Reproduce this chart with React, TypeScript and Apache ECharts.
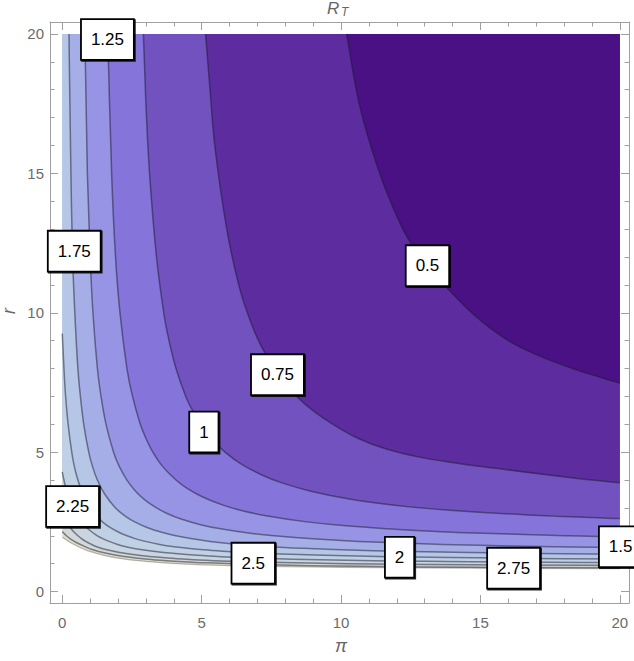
import React, { useEffect, useRef } from "react";
import * as echarts from "echarts";

// contour levels and the colour of the region below each level
const levels = [0.5, 0.75, 1, 1.25, 1.5, 1.75, 2, 2.25, 2.5, 2.75];
const bandColors = ["#4A1185", "#5D2DA0", "#7152BE", "#8574DA", "#9794E6", "#A6AEE8", "#B6C6E6", "#C0D1E5", "#C9D5E0", "#D3D8D8"];
const topBandColor = "#E2DECC";

// contour lines, as [pi, r]
const contour050 = [[10.2, 20], [10.65, 17.5], [11.3, 15.25], [12.0, 13.46], [12.5, 12.5], [13.2, 11.6], [13.8, 10.9], [14.8, 9.9], [16.0, 9.0], [17.0, 8.5], [18.3, 8.0], [20, 7.47]];
const contour075 = [[5.14, 20], [5.3, 18], [5.47, 16], [5.9, 13], [6.33, 11], [6.64, 10], [7.04, 9], [7.6, 8], [7.96, 7.5], [8.41, 7], [8.98, 6.5], [9.71, 6], [10.6, 5.5], [11.6, 5.12], [12.72, 4.84], [13.91, 4.64], [15.95, 4.37], [18.34, 4.07], [20, 3.9]];
const contour100 = [[2.91, 20], [3.0, 17.5], [3.13, 15], [3.38, 12], [3.64, 10], [3.83, 9], [4.08, 8], [4.43, 7], [4.67, 6.5], [4.96, 6], [5.34, 5.5], [5.84, 5], [6.38, 4.6], [7.12, 4.2], [7.88, 3.9], [8.92, 3.6], [10.3, 3.32], [11.92, 3.1], [13.9, 2.92], [16.7, 2.75], [20, 2.62]];
const contour125 = [[1.63, 20], [1.77, 15], [1.91, 12], [2.07, 10], [2.32, 8], [2.52, 7], [2.8, 6], [3.0, 5.5], [3.25, 5], [3.59, 4.5], [4.08, 4], [4.48, 3.7], [5.02, 3.4], [5.77, 3.1], [6.46, 2.9], [7.41, 2.7], [8.77, 2.5], [10.28, 2.35], [12.53, 2.2], [14.78, 2.1], [18.16, 2.0], [20, 1.96]];
const contour150 = [[0.81, 20], [0.9, 15], [1.0, 12], [1.1, 10], [1.26, 8], [1.39, 7], [1.57, 6], [1.84, 5], [2.04, 4.5], [2.32, 4], [2.63, 3.6], [2.95, 3.3], [3.38, 3.0], [3.76, 2.8], [4.26, 2.6], [4.96, 2.4], [5.68, 2.25], [6.68, 2.1], [7.6, 2.0], [8.84, 1.9], [10.62, 1.8], [12.7, 1.72], [15.38, 1.65], [18.16, 1.6], [20, 1.58]];
const contour175 = [[0.24, 20], [0.31, 15], [0.37, 12], [0.45, 10], [0.56, 8], [0.65, 7], [0.77, 6], [0.95, 5], [1.08, 4.5], [1.26, 4], [1.52, 3.5], [1.91, 3], [2.27, 2.7], [2.6, 2.5], [3.04, 2.3], [3.66, 2.1], [4.08, 2.0], [4.61, 1.9], [5.3, 1.8], [6.25, 1.7], [7.6, 1.6], [8.64, 1.55], [10.0, 1.5], [11.87, 1.45], [14.58, 1.4], [16.96, 1.37], [20, 1.34]];
const contour200 = [[0, 9.26], [0.06, 8], [0.12, 7], [0.21, 6], [0.34, 5], [0.43, 4.5], [0.56, 4], [0.74, 3.5], [1.0, 3.0], [1.23, 2.7], [1.44, 2.5], [1.71, 2.3], [2.08, 2.1], [2.32, 2.0], [2.61, 1.9], [2.98, 1.8], [3.45, 1.7], [4.08, 1.6], [5.08, 1.5], [5.75, 1.45], [6.62, 1.4], [7.84, 1.35], [9.41, 1.3], [11.71, 1.25], [15.7, 1.2], [20, 1.165]];
const contour225 = [[0, 4.29], [0.06, 4], [0.19, 3.5], [0.37, 3.0], [0.54, 2.7], [0.68, 2.5], [0.87, 2.3], [1.11, 2.1], [1.26, 2.0], [1.45, 1.9], [1.68, 1.8], [1.96, 1.7], [2.32, 1.6], [2.86, 1.5], [3.63, 1.4], [4.84, 1.3], [5.7, 1.25], [6.95, 1.2], [8.75, 1.15], [11.63, 1.1], [14.58, 1.07], [17.35, 1.05], [20, 1.04]];
const contour250 = [[0, 2.79], [0.09, 2.6], [0.21, 2.4], [0.36, 2.2], [0.56, 2.0], [0.69, 1.9], [0.84, 1.8], [1.03, 1.7], [1.26, 1.6], [1.6, 1.5], [2.06, 1.4], [2.74, 1.3], [3.78, 1.2], [4.57, 1.15], [5.67, 1.1], [7.39, 1.05], [10.24, 1.0], [13.14, 0.97], [16.24, 0.95], [20, 0.935]];
const contour275 = [[0, 2.15], [0.15, 2.0], [0.3, 1.88], [0.5, 1.76], [0.8, 1.62], [1.1, 1.5], [1.5, 1.39], [2.15, 1.27], [3.17, 1.15], [4.0, 1.09], [5.16, 1.03], [7.1, 0.97], [8.88, 0.93], [10.65, 0.91], [12.94, 0.885], [16.31, 0.865], [20, 0.85]];
// lower edge of the plotted region (white below)
const boundary = [[0, 1.95], [0.3, 1.75], [0.6, 1.6], [0.93, 1.46], [1.5, 1.3], [2.13, 1.18], [3.0, 1.08], [3.93, 1.01], [5.0, 0.96], [6.08, 0.93], [8, 0.895], [10, 0.87], [13, 0.85], [16, 0.835], [20, 0.82]];

const contours = [contour050, contour075, contour100, contour125, contour150, contour175, contour200, contour225, contour250, contour275];

// contour labels
const labelTexts = ["1.25", "1.75", "0.5", "0.75", "1", "2.25", "2.5", "2", "2.75", "1.5"];
const labelPi = [1.62, 0.43, 13.1, 7.72, 5.08, 0.37, 6.85, 12.1, 16.19, 20.03];
const labelR = [19.8, 12.21, 11.69, 7.78, 5.72, 3.05, 1.02, 1.23, 0.84, 1.61];

// ticks
const majorTicks = [0, 5, 10, 15, 20];
const minorTicks = [1, 2, 3, 4, 6, 7, 8, 9, 11, 12, 13, 14, 16, 17, 18, 19];

const FONT = '"Liberation Sans", Arial, sans-serif';
const FRAME = "#a0a0a0";
const TICKTEXT = "#6b6b6b";
const X_MIN = -0.44, X_MAX = 20.33, Y_MIN = -0.41, Y_MAX = 20.43;

function makeAxis(position: string, ticks: number[], len: number, showLine: boolean, showLabel: boolean, isX: boolean, margin: number) {
  return {
    type: "value",
    min: isX ? X_MIN : Y_MIN,
    max: isX ? X_MAX : Y_MAX,
    position,
    axisLine: { show: showLine, onZero: false, lineStyle: { color: FRAME, width: 1 } },
    axisTick: { show: true, inside: true, length: len, customValues: ticks, lineStyle: { color: FRAME, width: 1 } },
    axisLabel: { show: showLabel, customValues: ticks, color: TICKTEXT, fontSize: 15, fontFamily: FONT, margin },
    splitLine: { show: false },
  };
}

// smooth SVG path through pixel points (rendering only)
function smoothPath(px: number[][]): string {
  const n = px.length;
  const f = (v: number) => v.toFixed(2);
  let d = "M" + f(px[0][0]) + "," + f(px[0][1]);
  const tan = (i: number) => {
    const a = px[Math.max(0, i - 1)];
    const b = px[Math.min(n - 1, i + 1)];
    const dx = b[0] - a[0], dy = b[1] - a[1];
    const l = Math.hypot(dx, dy) || 1;
    return [dx / l, dy / l];
  };
  for (let i = 0; i < n - 1; i++) {
    const p = px[i], q = px[i + 1];
    const seg = Math.hypot(q[0] - p[0], q[1] - p[1]) / 3;
    const t0 = tan(i), t1 = tan(i + 1);
    d += "C" + f(p[0] + t0[0] * seg) + "," + f(p[1] + t0[1] * seg) + " " + f(q[0] - t1[0] * seg) + "," + f(q[1] - t1[1] * seg) + " " + f(q[0]) + "," + f(q[1]);
  }
  return d;
}

export default function App() {
  const ref = useRef<HTMLDivElement>(null);
  useEffect(() => {
    const chart = echarts.init(ref.current!, null, { renderer: "svg" });

    const fills: { curve: number[][]; color: string }[] = [];
    fills.push({ curve: boundary, color: topBandColor });
    for (let i = levels.length - 1; i >= 0; i--) {
      fills.push({ curve: contours[i], color: bandColors[i] });
    }
    const lines: { curve: number[][]; color: string; width: number }[] = contours.map((c) => ({ curve: c, color: "rgba(25,25,45,0.5)", width: 1.5 }));
    lines.push({ curve: boundary, color: "rgba(60,60,50,0.35)", width: 1.2 });

    const option: any = {
      animation: false,
      grid: { left: 50, right: 5, top: 22, bottom: 58, containLabel: false },
      xAxis: [
        makeAxis("bottom", majorTicks, 8, true, true, true, 12),
        makeAxis("bottom", minorTicks, 4.5, false, false, true, 12),
        makeAxis("top", majorTicks, 8, true, false, true, 12),
        makeAxis("top", minorTicks, 4.5, false, false, true, 12),
      ],
      yAxis: [
        makeAxis("left", majorTicks, 8, true, true, false, 6),
        makeAxis("left", minorTicks, 4.5, false, false, false, 6),
        makeAxis("right", majorTicks, 8, true, false, false, 6),
        makeAxis("right", minorTicks, 4.5, false, false, false, 6),
      ],
      graphic: [
        { type: "text", x: 327, y: 0, style: { text: "R", font: "italic 17px " + FONT, fill: "#666", verticalAlign: "top" } },
        { type: "text", x: 341, y: 6, style: { text: "T", font: "italic 12px " + FONT, fill: "#666", verticalAlign: "top" } },
        { type: "text", x: 341, y: 646, style: { text: "π", font: "italic 18px " + FONT, fill: "#666", align: "center", verticalAlign: "middle" } },
        { type: "text", x: 9, y: 311, rotation: Math.PI / 2, style: { text: "r", font: "italic 18px " + FONT, fill: "#666", align: "center", verticalAlign: "middle" } },
      ],
      series: [
        {
          type: "custom",
          name: "fills",
          xAxisIndex: 0,
          yAxisIndex: 0,
          silent: true,
          clip: true,
          z: 1,
          data: fills.map((_, i) => [0, 0, i]),
          renderItem: (params: any, api: any) => {
            const fl = fills[params.dataIndex];
            const px = fl.curve.map((p) => api.coord(p));
            const c1 = api.coord([20, 20]);
            const c2 = api.coord([0, 20]);
            const d = smoothPath(px) + "L" + c1[0] + "," + c1[1] + "L" + c2[0] + "," + c2[1] + "Z";
            return {
              type: "path",
              shape: { pathData: d },
              style: { fill: fl.color, stroke: null, lineWidth: 0 },
            };
          },
        },
        {
          type: "custom",
          name: "contours",
          xAxisIndex: 0,
          yAxisIndex: 0,
          silent: true,
          clip: true,
          z: 3,
          data: lines.map((_, i) => [0, 0, i]),
          renderItem: (params: any, api: any) => {
            const ln = lines[params.dataIndex];
            const px = ln.curve.map((p) => api.coord(p));
            return {
              type: "path",
              shape: { pathData: smoothPath(px) },
              style: { fill: "none", stroke: ln.color, lineWidth: ln.width },
            };
          },
        },
        {
          type: "scatter",
          name: "labels",
          symbolSize: 0,
          silent: true,
          clip: false,
          z: 10,
          itemStyle: { opacity: 1 },
          data: labelTexts.map((t, i) => [labelPi[i], labelR[i], t]),
          label: {
            show: true,
            position: "inside",
            formatter: (p: any) => p.value[2],
            color: "#000",
            opacity: 1,
            fontSize: 17,
            fontFamily: FONT,
            lineHeight: 17,
            backgroundColor: "#fff",
            borderColor: "#000",
            borderWidth: 1.8,
            padding: [11, 9, 11, 9],
            shadowColor: "rgba(0,0,0,0.85)",
            shadowOffsetX: 1,
            shadowOffsetY: 1,
            shadowBlur: 0,
          },
        },
      ],
    };
    chart.setOption(option);
    return () => chart.dispose();
  }, []);
  return <div ref={ref} style={{ position: "fixed", left: 0, top: 0, width: 634, height: 661, background: "#fff" }} />;
}
